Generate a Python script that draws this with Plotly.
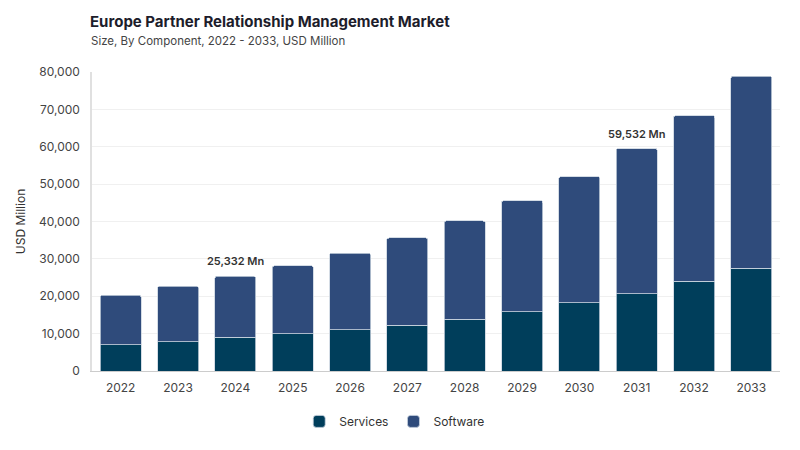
import plotly.graph_objects as go

years = ["2022", "2023", "2024", "2025", "2026", "2027",
         "2028", "2029", "2030", "2031", "2032", "2033"]
services = [7050, 7850, 9000, 9950, 11000, 12300, 13900, 15800, 18250, 20700, 24050, 27500]
software = [13250, 14800, 16332, 18200, 20550, 23300, 26250, 29700, 33750, 38832, 44250, 51400]

# years that carry a total label
label_years = ["2024", "2031"]

font = "Inter"
W, H = 792, 442   # page body has an 8px margin

fig = go.Figure()
fig.add_trace(go.Bar(x=years, y=services, name="Services",
                     marker=dict(color="#003e5b", line=dict(color="#c9d3df", width=0.8))))
fig.add_trace(go.Bar(x=years, y=software, name="Software",
                     marker=dict(color="#2f4b7b", line=dict(color="#c9d3df", width=0.8))))

for yr in label_years:
    i = years.index(yr)
    tot = services[i] + software[i]
    # category axis: position by index, a numeric-looking string is read as an index
    fig.add_annotation(x=i, y=tot, text=f"{tot:,} Mn", showarrow=False,
                       yshift=15, font=dict(family=font, size=11, color="#333333", weight=600))

# subtitle
fig.add_annotation(text="Size, By Component, 2022 - 2033, USD Million",
                   xref="paper", yref="paper", x=0, y=1.104, xanchor="left", yanchor="middle",
                   xshift=-3, showarrow=False,
                   font=dict(family=font, size=11.5, color="#444444"))

fig.update_layout(
    barmode="stack",
    bargap=0.285,
    barcornerradius=2,
    width=W, height=H,
    margin=dict(l=82, r=20, t=64, b=79),
    paper_bgcolor="white", plot_bgcolor="white",
    font=dict(family=font, size=12, color="#444444"),
    title=dict(
        text="<b>Europe Partner Relationship Management Market</b>",
        x=82 / W, xanchor="left", yref="container", y=1 - 14 / H, yanchor="middle",
        font=dict(family=font, size=15, color="#1d1d2b"),
    ),
    legend=dict(orientation="h", x=0.44, xanchor="center",
                y=-0.12, yanchor="top", traceorder="normal",
                font=dict(family=font, size=12, color="#333333")),
    showlegend=True,
)
fig.update_yaxes(range=[0, 80000], dtick=10000, tickformat=",",
                 gridcolor="#f0f0f0", zeroline=False,
                 showline=True, linecolor="#e0e0e0", linewidth=1.5,
                 ticks="outside", ticklen=8, tickcolor="white",
                 title=dict(text="USD Million", font=dict(family=font, size=12, color="#333333"),
                            standoff=11),
                 tickfont=dict(family=font, size=12, color="#444444"))
fig.update_xaxes(type="category", showline=True, linecolor="#cccccc", linewidth=1,
                 ticks="outside", ticklen=6, tickcolor="white",
                 tickfont=dict(family=font, size=12, color="#444444"))

fig.write_html("out.html")
